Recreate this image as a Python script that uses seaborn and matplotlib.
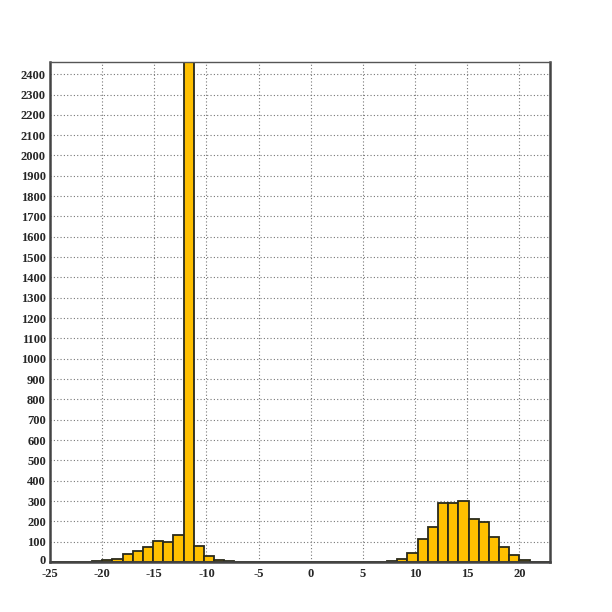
import numpy as np
import pandas as pd
import matplotlib
matplotlib.use("Agg")
import matplotlib.pyplot as plt
import matplotlib.transforms as mtransforms
import seaborn as sns

# histogram bins: 49 bins of width 40/41, one edge sitting on -20
bin_width = 40 / 41
bin_edges = -20 + (np.arange(50) - 5) * bin_width
bin_centers = bin_edges[:-1] + bin_width / 2

# counts per bin
counts = [
    1, 2, 0, 2, 3,                                   # -24.9 .. -20
    8, 17, 37, 53, 74, 103, 98, 133, 2460, 77,       # -20 .. -10.2
    28, 10, 3, 1, 1, 0, 0, 0, 0, 0,                  # -10.2 .. 0.5
    0, 0, 0, 0, 0, 0, 1, 2, 3,                       # 0.5 .. 8.3
    17, 46, 113, 172, 292, 292, 302, 212, 195,       # 8.3 .. 17.1
    121, 72, 33, 12, 1, 0,                           # 17.1 .. 22.9
]

x_ticks = np.arange(-25, 21, 5)
y_ticks = np.arange(0, 2401, 100)

df = pd.DataFrame({"x": bin_centers, "count": counts})

sns.set_theme(style="white")
plt.rcParams["font.family"] = ["Liberation Serif", "DejaVu Serif"]

fig = plt.figure(figsize=(6.12, 6.12), dpi=100)
ax = fig.add_axes([50 / 612, 50 / 612, 500 / 612, 500 / 612])

sns.histplot(data=df, x="x", weights="count", binwidth=bin_width,
             binrange=(bin_edges[0], bin_edges[-1]), ax=ax,
             color="#FFC000", edgecolor="#2a2a1a", linewidth=1.3, alpha=1.0)

ax.set_xlim(-25, 22.93)
ax.set_ylim(0, 2460)
ax.set_xticks(x_ticks)
ax.set_yticks(y_ticks)
ax.set_xticklabels([str(t) for t in x_ticks], fontsize=9, fontweight="bold")
ax.set_yticklabels([str(t) for t in y_ticks], fontsize=9, fontweight="bold")
ax.tick_params(axis="y", length=0, pad=3)
ax.tick_params(axis="x", length=0, pad=4)
ax.set_xlabel("")
ax.set_ylabel("")
ax.set_axisbelow(True)
ax.grid(True, linestyle=(0, (1, 2)), color="#777777", linewidth=0.8)

# nudge the "0" y label up a little so it clears the "-25" x label
zero_label = ax.get_yticklabels()[0]
zero_label.set_transform(zero_label.get_transform()
                         + mtransforms.ScaledTranslation(0, 2 / 72, fig.dpi_scale_trans))

for side in ["left", "right", "bottom"]:
    ax.spines[side].set_color("#444444")
    ax.spines[side].set_linewidth(1.8)
ax.spines["top"].set_color("#555555")
ax.spines["top"].set_linewidth(1.0)

fig.savefig("out.png", dpi=100, facecolor="white")
